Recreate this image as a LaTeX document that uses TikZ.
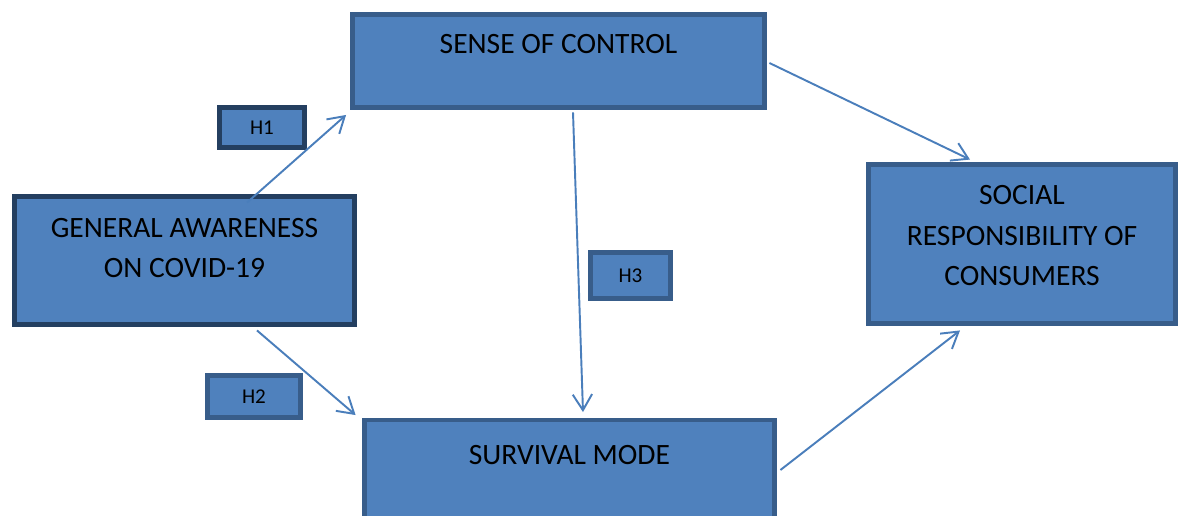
\documentclass[tikz,border=0pt]{standalone}
\usepackage{fontspec}
\setmainfont{Carlito}
\usetikzlibrary{arrows.meta}

\definecolor{boxfill}{HTML}{4F81BD}
\definecolor{boxline}{HTML}{385D8A}
\definecolor{darkline}{HTML}{243F60}
\definecolor{arrowblue}{HTML}{4A7EBB}

\begin{document}
\begin{tikzpicture}[x=0.02cm, y=-0.02cm]
        \tikzset{
            block/.style={draw=boxline, fill=boxfill, line width=2.8pt, inner sep=0pt},
            hyp/.style={block, font=\fontsize{12}{14}\selectfont},
            txt/.style={font=\fontsize{16.8}{23}\selectfont, align=center, inner sep=0pt},
            link/.style={draw=arrowblue, line width=1.1pt, -{Straight Barb[length=9pt,width=11pt]}}
        }
        \useasboundingbox (0,0) rectangle (1180,516);

        % constructs
        \node[block, minimum width=8.24cm, minimum height=1.86cm,
              label={[txt, yshift=9.6pt]center:SENSE OF CONTROL}] (sc) at (558.5,61) {};
        \node[block, draw=darkline, minimum width=6.8cm, minimum height=2.56cm,
              label={[txt, yshift=7pt]center:GENERAL AWARENESS\\ON COVID-19}] (ga) at (184.5,260.5) {};
        \node[block, minimum width=8.2cm, minimum height=2.08cm,
              label={[txt, yshift=9.6pt]center:SURVIVAL MODE}] (sm) at (569.5,472) {};
        \node[block, minimum width=6.14cm, minimum height=3.18cm,
              label={[txt, yshift=4.8pt]center:SOCIAL\\RESPONSIBILITY OF\\CONSUMERS}] (sr) at (1022,244) {};

        % hypotheses
        \node[hyp, draw=darkline, minimum width=1.7cm, minimum height=0.8cm] (h1) at (262,127.5) {H1};
        \node[hyp, minimum width=1.86cm, minimum height=0.84cm] (h2) at (254,396.5) {H2};
        \node[hyp, minimum width=1.6cm, minimum height=0.92cm] (h3) at (630.5,275.5) {H3};

        \path
        ([shift={(62.5,8.5)}]ga.north) edge[link] ([shift={(-4,5)}]sc.south west)
        ([shift={(72.5,3.5)}]ga.south) edge[link] ([shift={(-6.5,-2.5)}]sm.north west)
        ([shift={(14.5,2.5)}]sc.south) edge[link] ([shift={(13.5,-5.5)}]sm.north)
        ([shift={(2.5,2)}]sc.east) edge[link] ([shift={(-52,-2.5)}]sr.north)
        ([shift={(3.5,-2)}]sm.east) edge[link] ([shift={(-62,4.5)}]sr.south);
\end{tikzpicture}
\end{document}
